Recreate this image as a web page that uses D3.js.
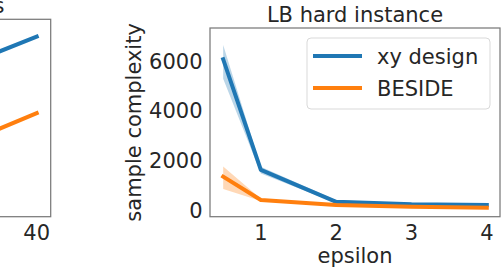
<!DOCTYPE html>
<html><head><meta charset="utf-8">
<script src="https://cdn.jsdelivr.net/npm/d3@7"></script>
<style>
html,body{margin:0;padding:0;background:#fff;}
svg{display:block;font-family:"DejaVu Sans",sans-serif;}
</style></head>
<body>
<div id="chart"></div>
<script>
// ---- right panel data: "LB hard instance"
const epsilons = [0.5, 1, 2, 3, 4];
const xyDesign = [6080, 1625, 340, 240, 215];
const xyDesignLo = [5300, 1480, 290, 200, 180];
const xyDesignHi = [6660, 1750, 400, 290, 250];
const beside = [1355, 415, 215, 145, 100];
const besideLo = [860, 370, 180, 110, 60];
const besideHi = [1760, 460, 250, 180, 140];
const yTicks = [0, 2000, 4000, 6000];
const xTicks = [1, 2, 3, 4];
const seriesNames = ["xy design", "BESIDE"];
const colors = ["#1f77b4", "#ff7f0e"];

// ---- left panel (partially visible) data
const leftX = [10, 20, 30, 40];
const leftBlue = [33, 54, 74.6, 95.4];
const leftOrange = [9, 20, 31.0, 52.7];
const leftXTicks = [10, 20, 30, 40];

const W = 502, H = 270, FS = 21, TXT = "#262626", SPINE = "#7a7a7a";
const svg = d3.select("#chart").append("svg").attr("width", W).attr("height", H);

// ---------- Left panel ----------
{
  const x = d3.scaleLinear().domain([8.5, 41.5]).range([-257, 50.7]);
  const y = d3.scaleLinear().domain([-5, 105]).range([216.7, 19.3]);
  const g = svg.append("g");
  g.append("rect").attr("x", x(8.5)).attr("y", y(105)).attr("width", x(41.5) - x(8.5))
    .attr("height", y(-5) - y(105)).attr("fill", "none").attr("stroke", SPINE).attr("stroke-width", 1.25);
  const line = d3.line().x(d => x(d[0])).y(d => y(d[1]));
  [leftBlue, leftOrange].forEach((s, i) => {
    g.append("path").datum(leftX.map((v, j) => [v, s[j]])).attr("d", line)
      .attr("fill", "none").attr("stroke", colors[i]).attr("stroke-width", 4).attr("stroke-linecap", "square");
  });
  // only tick labels that fall inside the visible window are drawn
  g.selectAll(".lt").data(leftXTicks.filter(d => x(d) > 15)).join("text").attr("x", d => x(d)).attr("y", 240.3)
    .attr("text-anchor", "middle").attr("font-size", FS).attr("fill", TXT).text(d => d);
  g.append("text").attr("x", 4.5).attr("y", 13).attr("text-anchor", "end")
    .attr("font-size", FS).attr("fill", TXT).text("instances");
}

// ---------- Right panel ----------
{
  const x = d3.scaleLinear().domain([0.325, 4.175]).range([210, 500]);
  const y = d3.scaleLinear().domain([-258, 7342]).range([216.7, 28]);
  const g = svg.append("g");

  const bands = [[xyDesignLo, xyDesignHi], [besideLo, besideHi]];
  const area = d3.area().x(d => x(d[0])).y0(d => y(d[1])).y1(d => y(d[2]));
  bands.forEach((b, i) => {
    g.append("path").datum(epsilons.map((e, j) => [e, b[0][j], b[1][j]])).attr("d", area)
      .attr("fill", colors[i]).attr("fill-opacity", 0.3).attr("stroke", "none");
  });
  const line = d3.line().x(d => x(d[0])).y(d => y(d[1]));
  [xyDesign, beside].forEach((s, i) => {
    g.append("path").datum(epsilons.map((e, j) => [e, s[j]])).attr("d", line)
      .attr("fill", "none").attr("stroke", colors[i]).attr("stroke-width", 4)
      .attr("stroke-linecap", "square").attr("stroke-linejoin", "round");
  });

  g.append("rect").attr("x", 210).attr("y", 28).attr("width", 290).attr("height", 216.7 - 28)
    .attr("fill", "none").attr("stroke", SPINE).attr("stroke-width", 1.25);

  g.selectAll(".xt").data(xTicks).join("text").attr("x", d => x(d)).attr("y", 240.3)
    .attr("text-anchor", "middle").attr("font-size", FS).attr("fill", TXT).text(d => d);
  g.selectAll(".yt").data(yTicks).join("text").attr("x", 202.5).attr("y", d => y(d))
    .attr("dy", "0.35em").attr("text-anchor", "end").attr("font-size", FS).attr("fill", TXT).text(d => d);

  g.append("text").attr("x", 355).attr("y", 21.7).attr("text-anchor", "middle")
    .attr("font-size", FS).attr("fill", TXT).text("LB hard instance");
  g.append("text").attr("x", 355).attr("y", 263).attr("text-anchor", "middle")
    .attr("font-size", FS).attr("fill", TXT).text("epsilon");
  g.append("text").attr("transform", "translate(141,122.4) rotate(-90)").attr("text-anchor", "middle")
    .attr("font-size", FS).attr("fill", TXT).text("sample complexity");

  // legend
  const lg = g.append("g");
  lg.append("rect").attr("x", 307).attr("y", 38).attr("width", 183).attr("height", 71).attr("rx", 4)
    .attr("fill", "#fff").attr("fill-opacity", 0.8).attr("stroke", "#d9d9d9").attr("stroke-width", 1);
  seriesNames.forEach((n, i) => {
    const cy = 56 + i * 32;
    lg.append("line").attr("x1", 315).attr("x2", 360).attr("y1", cy).attr("y2", cy)
      .attr("stroke", colors[i]).attr("stroke-width", 4).attr("stroke-linecap", "square");
    lg.append("text").attr("x", 377).attr("y", cy + 7.6).attr("font-size", FS).attr("fill", TXT).text(n);
  });
}
</script>
</body></html>
